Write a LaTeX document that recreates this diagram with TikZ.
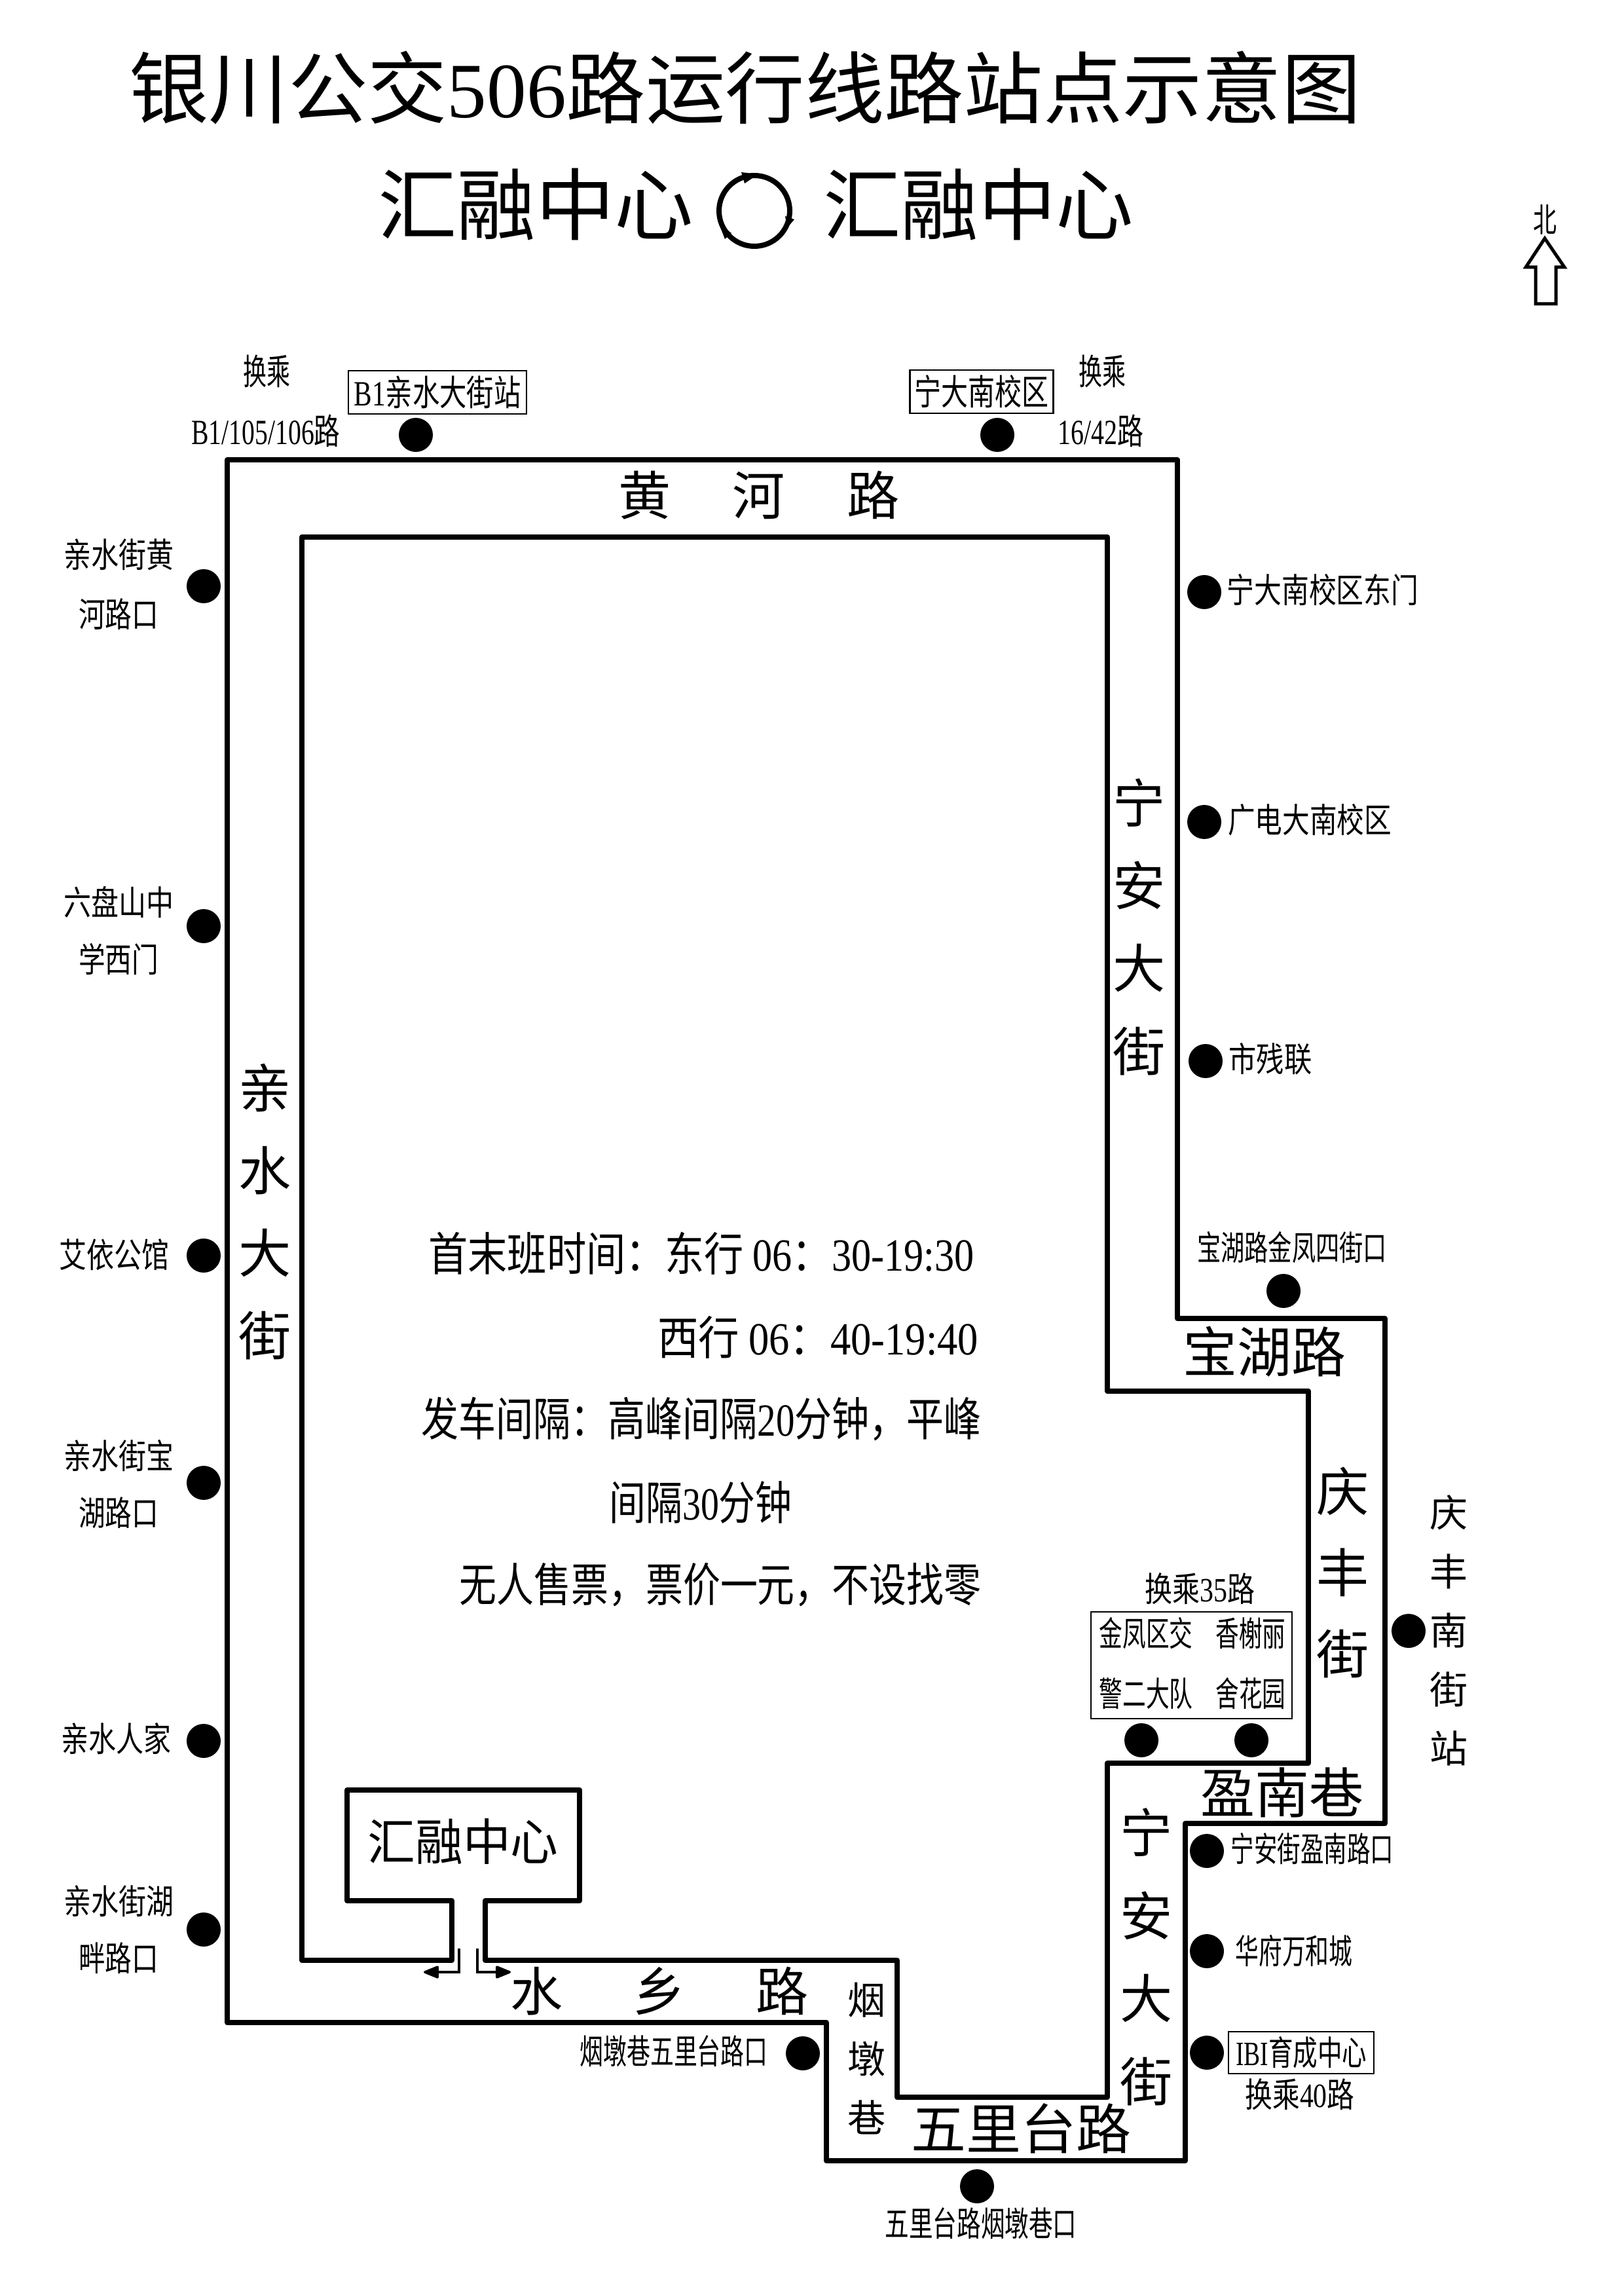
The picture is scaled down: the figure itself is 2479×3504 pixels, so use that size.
\documentclass[tikz,border=0pt]{standalone}
\usepackage{fontspec}
\usepackage{graphicx}
\usetikzlibrary{arrows.meta}
\setmainfont{Noto Sans CJK SC}
\newfontfamily\latn{Liberation Serif}
\newdimen\pxu \pxu=0.01cm
% width in px, font size in pt, text
\newcommand\Tw[3]{\resizebox{#1\pxu}{\height}{\fontsize{#2}{#2}\selectfont #3}}
\newcommand\Gap[1]{\hspace{#1\pxu}}
\tikzset{
  x=0.01cm,y=-0.01cm,
  lbl/.style={inner sep=0pt,outer sep=0pt,anchor=center,yshift=0.03cm},
  vert/.style={lbl,align=center},
  stopdot/.style={circle,fill=black,draw=none,minimum size=52*0.01cm,inner sep=0pt},
  route/.style={draw=black,line width=8*0.01cm,line join=round},
  tagbox/.style={draw=black,line width=2.5*0.01cm},
  smallarrow/.style={draw=black,line width=3.5*0.01cm,-{Triangle[length=26*0.01cm,width=20*0.01cm,round]}},
}
\begin{document}
\begin{tikzpicture}
\useasboundingbox (0,0) rectangle (2479,3504);
\fill[white] (0,0) rectangle (2479,3504);
% title
\node[lbl] (title) at (1138,137) {\Tw{1881}{34}{银川公交{\latn 506}路运行线路站点示意图}};
\node[lbl] (t1) at (818,315) {\Tw{482}{34}{汇融中心}};
\node[lbl] (t2) at (1494,315) {\Tw{474}{34}{汇融中心}};
\node[draw=black,line width=8*0.01cm,circle,minimum size=108*0.01cm,inner sep=0pt] (loop) at (1152,322) {};
\fill[line join=round] (1132,263)--(1158,266)--(1137,280)--cycle;
\fill[line join=round] (1213,335)--(1199,330)--(1202,348)--cycle;
\fill[line join=round] (1098,342)--(1117,356)--(1107,365)--cycle;
% north
\node[lbl] (north) at (2359,338) {\Tw{36}{14.5}{北}};
\draw[line width=5*0.01cm,line join=miter] (2359,364)--(2389,408)--(2376,408)--(2376,464)--(2345,464)--(2345,408)--(2330,408)--cycle;
% routes
\path[route] (347,702)--(1798,702)--(1798,2013)--(2115,2013)--(2115,2784)--(1810,2784)--(1810,3299)--(1262,3299)--(1262,3088)--(347,3088)--cycle;
\path[route] (461,820)--(1691,820)--(1691,2124)--(1998,2124)--(1998,2692)--(1691,2692)--(1691,3202)--(1370,3202)--(1370,2993)--(741,2993)--(741,2902)--(885,2902)--(885,2733)--(530,2733)--(530,2902)--(690,2902)--(690,2993)--(461,2993)--cycle;
% exit arrows
\coordinate (la) at (701,2975); \coordinate (lb) at (701,3011); \coordinate (lc) at (647,3011);
\coordinate (ra) at (729,2975); \coordinate (rb) at (729,3011); \coordinate (rc) at (780,3011);
\draw[smallarrow] (la)--(lb)--(lc);
\draw[smallarrow] (ra)--(rb)--(rc);
% stops
\node[stopdot] (s1) at (635,664) {};
\node[stopdot] (s2) at (1523,664) {};
\node[stopdot] (s3) at (311,895) {};
\node[stopdot] (s4) at (1839,904) {};
\node[stopdot] (s5) at (1839,1255) {};
\node[stopdot] (s6) at (311,1414) {};
\node[stopdot] (s7) at (1841,1620) {};
\node[stopdot] (s8) at (311,1917) {};
\node[stopdot] (s9) at (1960,1971) {};
\node[stopdot] (s10) at (311,2264) {};
\node[stopdot] (s11) at (2151,2490) {};
\node[stopdot] (s12) at (1743,2657) {};
\node[stopdot] (s13) at (1911,2657) {};
\node[stopdot] (s14) at (311,2658) {};
\node[stopdot] (s15) at (1843,2826) {};
\node[stopdot] (s16) at (311,2946) {};
\node[stopdot] (s17) at (1843,2979) {};
\node[stopdot] (s18) at (1843,3134) {};
\node[stopdot] (s19) at (1226,3135) {};
\node[stopdot] (s20) at (1492,3338) {};
% top labels
\node[lbl] (a1) at (407,570) {\Tw{72}{15.4}{换乘}};
\node[lbl] (a2) at (406,661) {\Tw{227}{15.4}{{\latn B1/105/106}路}};
\node[lbl,tagbox,minimum width=272*0.01cm,minimum height=66*0.01cm] (a3) at (668,602) {\Tw{255}{15.4}{{\latn B1}亲水大街站}};
\node[lbl,tagbox,minimum width=219*0.01cm,minimum height=66*0.01cm] (a4) at (1499,601) {\Tw{205}{15.4}{宁大南校区}};
\node[lbl] (a5) at (1683,570) {\Tw{72}{15.4}{换乘}};
\node[lbl] (a6) at (1681,661) {\Tw{131}{15.4}{{\latn 16/42}路}};
% left labels
\node[lbl] (l1) at (181,850) {\Tw{168}{14.8}{亲水街黄}};
\node[lbl] (l2) at (181,941) {\Tw{122}{14.8}{河路口}};
\node[lbl] (l3) at (181,1380) {\Tw{168}{14.8}{六盘山中}};
\node[lbl] (l4) at (181,1467) {\Tw{122}{14.8}{学西门}};
\node[lbl] (l5) at (174,1919) {\Tw{168}{14.8}{艾依公馆}};
\node[lbl] (l6) at (181,2226) {\Tw{168}{14.8}{亲水街宝}};
\node[lbl] (l7) at (181,2313) {\Tw{122}{14.8}{湖路口}};
\node[lbl] (l8) at (177,2658) {\Tw{168}{14.8}{亲水人家}};
\node[lbl] (l9) at (181,2906) {\Tw{168}{14.8}{亲水街湖}};
\node[lbl] (l10) at (181,2993) {\Tw{122}{14.8}{畔路口}};
% right labels
\node[lbl] (r1) at (2020,904) {\Tw{293}{14.8}{宁大南校区东门}};
\node[lbl] (r2) at (2000,1255) {\Tw{250}{14.8}{广电大南校区}};
\node[lbl] (r3) at (1940,1620) {\Tw{127}{14.8}{市残联}};
\node[lbl] (r4) at (1973,1908) {\Tw{290}{14.8}{宝湖路金凤四街口}};
\node[vert,font=\fontsize{16.5}{25.6}\selectfont] (r5) at (2212,2492) {庆\\丰\\南\\街\\站};
\node[lbl] (r6) at (1832,2429) {\Tw{168}{14.8}{换乘{\latn 35}路}};
\node[lbl,tagbox,minimum width=307*0.01cm,minimum height=163*0.01cm] (r7) at (1819.5,2545.5) {};
\node[lbl] (r8) at (1750,2497) {\Tw{143}{14.8}{金凤区交}};
\node[lbl] (r9) at (1910,2497) {\Tw{107}{14.8}{香榭丽}};
\node[lbl] (r10) at (1750,2589) {\Tw{143}{14.8}{警二大队}};
\node[lbl] (r11) at (1910,2589) {\Tw{107}{14.8}{舍花园}};
\node[lbl] (r12) at (2004,2826) {\Tw{249}{14.8}{宁安街盈南路口}};
\node[lbl] (r13) at (1976,2982) {\Tw{179}{14.8}{华府万和城}};
\node[lbl,tagbox,minimum width=222*0.01cm,minimum height=64*0.01cm] (r14) at (1987,3137) {\Tw{200}{14.8}{{\latn IBI}育成中心}};
\node[lbl] (r15) at (1985,3201) {\Tw{167}{14.8}{换乘{\latn 40}路}};
\node[lbl] (b1) at (1498,3398) {\Tw{293}{14.8}{五里台路烟墩巷口}};
\node[lbl] (b2) at (1029,3135) {\Tw{287}{14.8}{烟墩巷五里台路口}};
% road names
\node[lbl] (n1) at (1159,759) {\fontsize{22.8}{22.8}\selectfont 黄\Gap{94}河\Gap{94}路};
\node[vert,font=\fontsize{22.8}{35.9}\selectfont] (n2) at (405,1853) {亲\\水\\大\\街};
\node[vert,font=\fontsize{22.8}{35.9}\selectfont] (n3) at (1740,1418) {宁\\安\\大\\街};
\node[lbl] (n4) at (1931,2067) {\Tw{249}{23.6}{宝湖路}};
\node[vert,font=\fontsize{22.8}{35.2}\selectfont] (n5) at (2051,2404) {庆\\丰\\街};
\node[lbl] (n6) at (1958,2740) {\Tw{249}{23.6}{盈南巷}};
\node[vert,font=\fontsize{22.8}{36}\selectfont] (n7) at (1751,2991) {宁\\安\\大\\街};
\node[lbl] (n8) at (1559,3253) {\Tw{336}{23.6}{五里台路}};
\node[vert,font=\fontsize{16.5}{25.6}\selectfont] (n9) at (1323,3146) {烟\\墩\\巷};
\node[lbl] (n10) at (1007,3043) {\fontsize{22.8}{22.8}\selectfont 水\Gap{107}乡\Gap{107}路};
\node[lbl] (n11) at (707,2815) {\Tw{291}{21.6}{汇融中心}};
% timetable
\node[lbl] (i1) at (1071,1917) {\Tw{833}{20}{首末班时间：东行 {\latn 06}：{\latn 30-19:30}}};
\node[lbl] (i2) at (1249,2045) {\Tw{490}{20}{西行 {\latn 06}：{\latn 40-19:40}}};
\node[lbl] (i3) at (1071,2170) {\Tw{855}{20}{发车间隔：高峰间隔{\latn 20}分钟，平峰}};
\node[lbl] (i4) at (1070,2297) {\Tw{279}{20}{间隔{\latn 30}分钟}};
\node[lbl] (i5) at (1100,2423) {\Tw{797}{20}{无人售票，票价一元，不设找零}};
\end{tikzpicture}
\end{document}
